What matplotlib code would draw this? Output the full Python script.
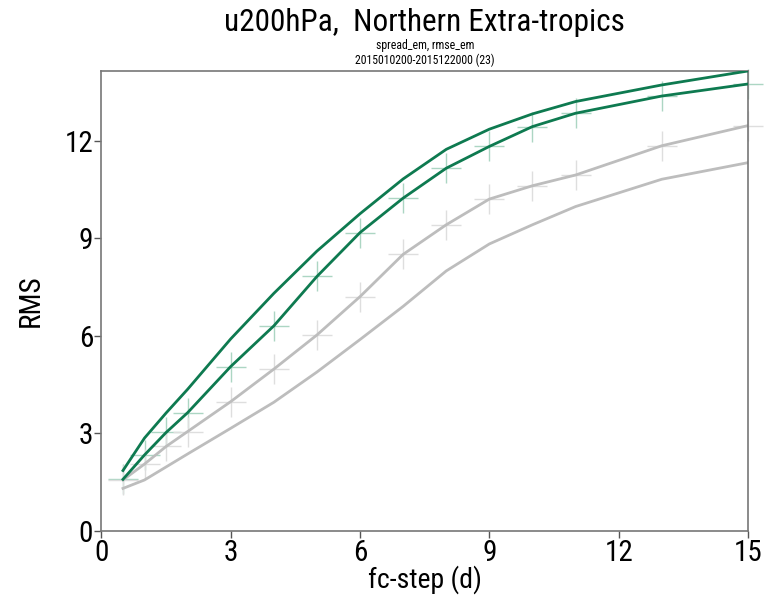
import matplotlib
matplotlib.use("Agg")
import matplotlib.pyplot as plt

fc_days = [0.5, 1, 1.5, 2, 3, 4, 5, 6, 7, 8, 9, 10, 11, 13, 15]

rmse_exp = [1.85, 2.85, 3.62, 4.35, 5.90, 7.30, 8.60, 9.75, 10.82, 11.73, 12.35, 12.82, 13.20, 13.71, 14.14]
spread_exp = [1.58, 2.33, 3.02, 3.63, 5.05, 6.30, 7.82, 9.17, 10.23, 11.15, 11.82, 12.43, 12.84, 13.37, 13.74]
rmse_ref = [1.56, 2.05, 2.59, 3.05, 3.97, 4.97, 6.02, 7.20, 8.50, 9.41, 10.20, 10.61, 10.94, 11.84, 12.46]
spread_ref = [1.30, 1.56, 1.96, 2.36, 3.15, 3.95, 4.88, 5.88, 6.90, 7.99, 8.82, 9.41, 9.97, 10.81, 11.32]

xticks = [0, 3, 6, 9, 12, 15]
yticks = [0, 3, 6, 9, 12]

title = "u200hPa,  Northern Extra-tropics"
subtitle1 = "spread_em, rmse_em"
subtitle2 = "2015010200-2015122000 (23)"

FONT = ["Roboto Condensed", "Liberation Sans Narrow", "Liberation Sans", "DejaVu Sans"]
plt.rcParams["font.family"] = FONT

GREEN = "#0e7a50"
GREY = "#bdbdbd"
LGREEN = "#acd6c3"
LGREY = "#dedede"

fig = plt.figure(figsize=(7.66, 5.96), dpi=100)
ax = fig.add_axes([0.1324, 0.1096, 0.9765 - 0.1324, 0.8809 - 0.1096])

# crosses
ax.plot(fc_days, spread_exp, linestyle="none", marker="+", markersize=22,
        markeredgewidth=1.0, color=LGREEN, clip_on=False, zorder=1)
ax.plot(fc_days, rmse_ref, linestyle="none", marker="+", markersize=22,
        markeredgewidth=1.0, color=LGREY, clip_on=False, zorder=1)

ax.plot(fc_days, spread_ref, color=GREY, lw=2.0, zorder=2)
ax.plot(fc_days, rmse_ref, color=GREY, lw=2.0, zorder=2)
ax.plot(fc_days, spread_exp, color=GREEN, lw=2.0, zorder=3)
ax.plot(fc_days, rmse_exp, color=GREEN, lw=2.0, zorder=3)

ax.set_xlim(0, 15)
ax.set_ylim(0, max(rmse_exp))
ax.set_xticks(xticks)
ax.set_yticks(yticks)
ax.set_xticklabels([str(t) for t in xticks])
ax.set_yticklabels([str(t) for t in yticks])
ax.tick_params(axis="both", direction="out", length=5, width=1.0,
               color="#555555", labelsize=21, pad=1)
ax.tick_params(top=False, right=False)
for s in ax.spines.values():
    s.set_color("#777777")
    s.set_linewidth(1.2)

ax.set_xlabel("fc-step (d)", fontsize=20, labelpad=-1)
ax.set_ylabel("RMS", fontsize=21, labelpad=14)

cx = 0.5 * (0.1324 + 0.9765)
fig.text(cx, 0.962, title, ha="center", va="center", fontsize=22.5)
fig.text(cx, 0.923, subtitle1, ha="center", va="center", fontsize=8.5)
fig.text(cx, 0.899, subtitle2, ha="center", va="center", fontsize=8.5)

fig.savefig("out.png", dpi=100)
